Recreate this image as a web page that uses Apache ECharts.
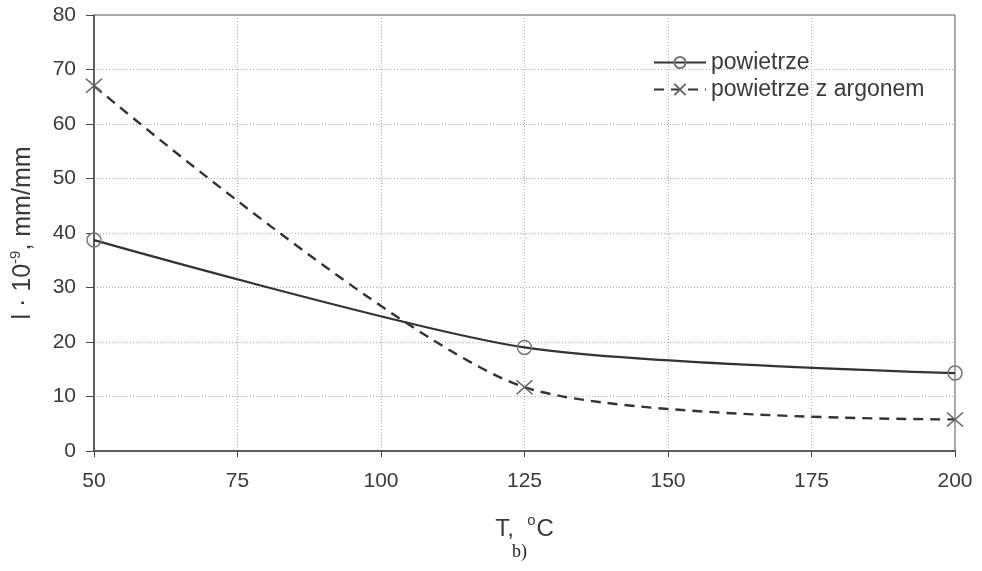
<!DOCTYPE html>
<html>
<head>
<meta charset="utf-8">
<script src="https://cdn.jsdelivr.net/npm/echarts@6/dist/echarts.min.js"></script>
<style>
html,body{margin:0;padding:0;background:#fff;}
#c{width:982px;height:571px;}
</style>
</head>
<body>
<div id="c"></div>
<script>
var temperatures = [50, 125, 200];
var powietrze = [38.7, 19.0, 14.3];
var powietrzeArgon = [67.0, 11.7, 5.8];
var xTicks = [50, 75, 100, 125, 150, 175, 200];
var yTicks = [0, 10, 20, 30, 40, 50, 60, 70, 80];

var chart = echarts.init(document.getElementById('c'));
var txt = '#3a3a3a';
var font = '"Liberation Sans", Arial, sans-serif';
function pairs(xs, ys){ return xs.map(function(x,i){ return [x, ys[i]]; }); }

chart.setOption({
  animation: false,
  backgroundColor: '#fff',
  grid: { left: 92, right: 27, top: 15, bottom: 120, show: true, borderColor: '#555', borderWidth: 1 },
  legend: {
    orient: 'vertical',
    left: 648, top: 46,
    itemWidth: 52, itemHeight: 14, itemGap: 4,
    textStyle: { color: txt, fontFamily: font, fontSize: 23 },
    data: ['powietrze', 'powietrze z argonem']
  },
  xAxis: {
    type: 'value', min: xTicks[0], max: xTicks[xTicks.length-1], interval: 25,
    name: '{b|T,\u00a0\u00a0}{s|o}{b|C}', nameLocation: 'middle', nameGap: 62,
    nameTextStyle: { rich: {
      b: { fontSize: 24, color: txt, fontFamily: font, lineHeight: 28, verticalAlign: 'bottom' },
      s: { fontSize: 15, color: txt, fontFamily: font, lineHeight: 28, verticalAlign: 'top', padding:[0,1,0,0] }
    }},
    axisLine: { lineStyle: { color: '#444', width: 1.5 } },
    axisTick: { show: true, length: 6, lineStyle: { color: '#444' } },
    axisLabel: { color: txt, fontFamily: font, fontSize: 21, margin: 20 },
    splitLine: { show: true, lineStyle: { color: '#aaa', type: [1, 2], width: 1 } }
  },
  yAxis: {
    type: 'value', min: yTicks[0], max: yTicks[yTicks.length-1], interval: 10,
    name: '{b|l · 10}{s|-9}{b|, mm/mm}', nameLocation: 'middle', nameGap: 58, nameRotate: 90,
    nameTextStyle: { rich: {
      b: { fontSize: 25, color: txt, fontFamily: font, lineHeight: 28, verticalAlign: 'bottom' },
      s: { fontSize: 15, color: txt, fontFamily: font, lineHeight: 28, verticalAlign: 'top' }
    }},
    axisLine: { show: true, lineStyle: { color: '#444', width: 1.5 } },
    axisTick: { show: true, length: 8, lineStyle: { color: '#444' } },
    axisLabel: { color: txt, fontFamily: font, fontSize: 21, margin: 18 },
    splitLine: { show: true, lineStyle: { color: '#aaa', type: [1, 2], width: 1 } }
  },
  series: [
    {
      name: 'powietrze', type: 'line', smooth: 0.25,
      data: pairs(temperatures, powietrze),
      symbol: 'circle', symbolSize: 14,
      lineStyle: { color: '#333', width: 2.2 },
      itemStyle: { color: 'rgba(255,255,255,0)', borderColor: '#777', borderWidth: 1.5 },
      z: 3
    },
    {
      name: 'powietrze z argonem', type: 'line', smooth: 0.25,
      data: pairs(temperatures, powietrzeArgon),
      symbol: 'path://M0,0L16,14M16,0L0,14', symbolSize: [16, 14],
      lineStyle: { color: '#333', width: 2.4, type: [10, 7] },
      itemStyle: { color: 'rgba(255,255,255,0)', borderColor: '#666', borderWidth: 1.5 },
      z: 3
    }
  ],
  graphic: [
    { type: 'text', left: 512, top: 543, style: { text: 'b)', font: '18px "Liberation Serif", "DejaVu Serif", serif', fill: '#222' } }
  ]
});
</script>
</body>
</html>
